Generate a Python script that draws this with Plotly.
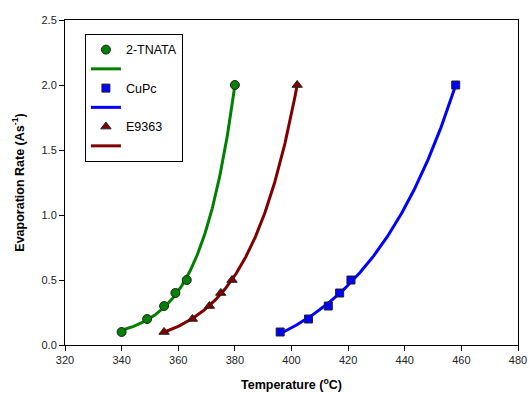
import numpy as np
import plotly.graph_objects as go

rate = [0.1, 0.2, 0.3, 0.4, 0.5, 2.0]
tnata_T = [340, 349, 355, 359, 363, 380]
cupc_T = [396, 406, 413, 417, 421, 458]
e9363_T = [355, 365, 371, 375, 379, 402]

series = [
    ("2-TNATA", tnata_T, "#008000", "circle", 9),
    ("CuPc", cupc_T, "#0000ff", "square", 8),
    ("E9363", e9363_T, "#800000", "triangle-up", 9),
]


def exp_fit(T, y):
    """Least-squares fit y = c + a*exp(b*(T - T0)), grid search on b."""
    T = np.asarray(T, float)
    y = np.asarray(y, float)
    T0 = T.min()
    best = None
    for b in np.linspace(0.005, 0.3, 3000):
        e = np.exp(b * (T - T0))
        A = np.vstack([np.ones_like(e), e]).T
        coef, *_ = np.linalg.lstsq(A, y, rcond=None)
        res = np.sum((A @ coef - y) ** 2)
        if best is None or res < best[0]:
            best = (res, b, coef)
    _, b, (c, a) = best
    Tf = np.linspace(T.min(), T.max(), 200)
    return Tf, c + a * np.exp(b * (Tf - T0))


fig = go.Figure()
rank = 1
line_traces = []
marker_traces = []
for name, T, color, sym, size in series:
    Tf, yf = exp_fit(T, rate)
    line_traces.append(go.Scatter(
        x=Tf, y=yf, mode="lines", name=" ", legendrank=rank + 1,
        line=dict(color=color, width=3),
    ))
    marker_traces.append(go.Scatter(
        x=T, y=rate, mode="markers", name=name, legendrank=rank,
        marker=dict(symbol=sym, size=size, color=color, line=dict(color="#222222", width=1)),
    ))
    rank += 2
for t in line_traces + marker_traces:
    fig.add_trace(t)

fig.update_layout(
    width=529, height=394,
    margin=dict(l=65, r=11, t=20, b=49),
    paper_bgcolor="white", plot_bgcolor="white",
    font=dict(family="Liberation Sans, Arial, sans-serif", size=11, color="black"),
    showlegend=True,
    legend=dict(x=0.044, y=0.957, xanchor="left", yanchor="top",
                bordercolor="black", borderwidth=1, bgcolor="white",
                font=dict(size=12.5), tracegroupgap=0, traceorder="normal"),
    xaxis=dict(range=[320, 480], dtick=20, tick0=320, showgrid=False, zeroline=False,
               ticks="outside", ticklen=5, tickcolor="black", showline=True, linecolor="black",
               linewidth=1, mirror=True, tickfont=dict(color="#222222"), automargin=False,
               title=dict(text="<b>Temperature (<sup>o</sup>C)</b>", font=dict(size=12.5), standoff=15)),
    yaxis=dict(range=[0, 2.5], dtick=0.5, tickformat=".1f", showgrid=False, zeroline=False,
               ticks="outside", ticklen=5, tickcolor="black", showline=True, linecolor="black",
               linewidth=1, mirror=True, tickfont=dict(color="#222222"), automargin=False,
               title=dict(text="<b>Evaporation Rate (As<sup>-1</sup>)</b>", font=dict(size=12.5), standoff=14)),
)

fig.write_html("out.html")
